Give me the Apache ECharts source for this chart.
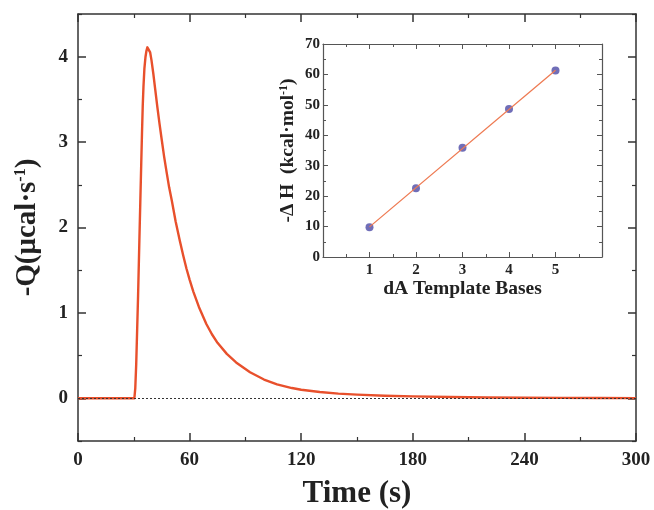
<!DOCTYPE html>
<html>
<head>
<meta charset="utf-8">
<script src="https://cdn.jsdelivr.net/npm/echarts@6/dist/echarts.min.js"></script>
<style>html,body{margin:0;padding:0;background:#fff}#c{width:654px;height:510px}</style>
</head>
<body>
<div id="c"></div>
<script>
// Main trace: time (s) and -Q (µcal/s)
var times = [0, 10, 20, 29, 30.3, 30.8, 31.3, 31.8, 32.3, 33, 33.5, 34, 34.4, 34.8, 35.2, 35.7, 36.3, 36.8, 37.3, 37.8, 38.3, 38.8, 39.5, 40.5, 41.5, 42.6, 43.8, 45, 46.3, 47.7, 49, 50.4, 52.5, 54.8, 56.6, 58.3, 60, 62, 65, 69, 72, 75, 80, 85, 92.5, 100, 107, 115, 120, 130, 140, 150, 165, 180, 200, 220, 240, 260, 280, 300];
var heatFlow = [0, 0, 0, 0, 0, 0.12, 0.4, 0.8, 1.2, 1.85, 2.3, 2.75, 3.1, 3.42, 3.65, 3.86, 4.0, 4.07, 4.11, 4.12, 4.1, 4.05, 3.96, 3.8, 3.62, 3.42, 3.22, 3.03, 2.83, 2.64, 2.47, 2.32, 2.07, 1.84, 1.67, 1.52, 1.39, 1.25, 1.07, 0.87, 0.75, 0.65, 0.52, 0.42, 0.305, 0.22, 0.163, 0.12, 0.10, 0.073, 0.055, 0.043, 0.030, 0.022, 0.015, 0.010, 0.007, 0.005, 0.003, 0.002];
var xTicks = [0, 60, 120, 180, 240, 300];
var yTicks = [0, 1, 2, 3, 4];
var yMinorTicks = [-0.5, 0.5, 1.5, 2.5, 3.5, 4.5];

// Inset: dA template bases vs -ΔH (kcal/mol)
var bases = [1, 2, 3, 4, 5];
var deltaH = [9.8, 22.6, 35.9, 48.6, 61.3];
var fitX = [1, 5];
var fitY = [9.9, 61.4];

var font = '"Liberation Serif", "Times New Roman", serif';
var axisCol = '#333';

function mainX(pos, show) {
  return {
    type: 'value', gridIndex: 0, position: pos, min: 0, max: 300, interval: 60,
    axisLine: {show: true, onZero: false, lineStyle: {color: axisCol, width: 1.5}},
    axisTick: {show: true, inside: true, length: 8, lineStyle: {color: axisCol, width: 1.5}},
    minorTick: {show: true, splitNumber: 2, length: 4, lineStyle: {color: axisCol, width: 1.2}},
    splitLine: {show: false},
    axisLabel: {show: show, margin: 10, color: '#222', fontFamily: font, fontWeight: 'bold', fontSize: 19,
      formatter: function (v) { return xTicks.indexOf(v) >= 0 ? String(v) : ''; }}
  };
}
function mainY(pos, show) {
  return {
    type: 'value', gridIndex: 0, position: pos, min: -0.5, max: 4.5, interval: 0.5,
    axisLine: {show: true, onZero: false, lineStyle: {color: axisCol, width: 1.5}},
    axisTick: {show: true, inside: true, length: 8, customValues: yTicks, lineStyle: {color: axisCol, width: 1.5}},
    minorTick: {show: false},
    splitLine: {show: false},
    axisLabel: {show: show, margin: 10, customValues: yTicks, color: '#222', fontFamily: font, fontWeight: 'bold', fontSize: 19,
      formatter: function (v) { return String(Math.round(v)); }}
  };
}
function mainYMinor(pos) {
  return {
    type: 'value', gridIndex: 0, position: pos, min: -0.5, max: 4.5, interval: 0.5,
    axisLine: {show: false, onZero: false},
    axisTick: {show: true, inside: true, length: 4, customValues: yMinorTicks, lineStyle: {color: axisCol, width: 1.2}},
    splitLine: {show: false},
    axisLabel: {show: false}
  };
}
function insetX(pos, show) {
  return {
    type: 'value', gridIndex: 1, position: pos, min: 0, max: 6, interval: 1,
    axisLine: {show: true, onZero: false, lineStyle: {color: '#555', width: 1.2}},
    axisTick: {show: true, inside: true, length: 5, lineStyle: {color: '#555', width: 1}},
    minorTick: {show: true, splitNumber: 2, length: 3, lineStyle: {color: '#555', width: 1}},
    splitLine: {show: false},
    axisLabel: {show: show, margin: 6, color: '#222', fontFamily: font, fontWeight: 'bold', fontSize: 15,
      formatter: function (v) { return bases.indexOf(v) >= 0 ? String(v) : ''; }}
  };
}
function insetY(pos, show) {
  return {
    type: 'value', gridIndex: 1, position: pos, min: 0, max: 70, interval: 10,
    axisLine: {show: true, onZero: false, lineStyle: {color: '#555', width: 1.2}},
    axisTick: {show: true, inside: true, length: 5, lineStyle: {color: '#555', width: 1}},
    minorTick: {show: true, splitNumber: 2, length: 3, lineStyle: {color: '#555', width: 1}},
    splitLine: {show: false},
    axisLabel: {show: show, margin: 3, color: '#222', fontFamily: font, fontWeight: 'bold', fontSize: 15}
  };
}

var xA0 = mainX('bottom', true);
xA0.name = 'Time (s)';
xA0.nameLocation = 'middle';
xA0.nameGap = 37;
xA0.nameTextStyle = {fontFamily: font, fontWeight: 'bold', fontSize: 31, color: '#222'};

var yA0 = mainY('left', true);
yA0.name = '-Q(\u03bccal\u00b7s{sup|-1})';
yA0.nameLocation = 'middle';
yA0.nameGap = 35;
yA0.nameTextStyle = {fontFamily: font, fontWeight: 'bold', fontSize: 29, color: '#222', lineHeight: 30,
  rich: {sup: {fontFamily: font, fontWeight: 'bold', fontSize: 16, color: '#222', verticalAlign: 'top', lineHeight: 16}}};

var xA2 = insetX('bottom', true);
xA2.name = 'dA Template Bases';
xA2.nameLocation = 'middle';
xA2.nameGap = 20;
xA2.nameTextStyle = {fontFamily: font, fontWeight: 'bold', fontSize: 19.5, color: '#222'};

var yA2 = insetY('left', true);
yA2.name = '-\u0394 H  (kcal\u00b7mol{sup|-1})';
yA2.nameLocation = 'middle';
yA2.nameGap = 25;
yA2.nameTextStyle = {fontFamily: font, fontWeight: 'bold', fontSize: 19.5, color: '#222', lineHeight: 20,
  rich: {sup: {fontFamily: font, fontWeight: 'bold', fontSize: 12, color: '#222', verticalAlign: 'top', lineHeight: 12}}};

var chart = echarts.init(document.getElementById('c'), null, {renderer: 'canvas'});
chart.setOption({
  animation: false,
  backgroundColor: '#fff',
  grid: [
    {left: 78, right: 18, top: 14, bottom: 69, containLabel: false, outerBoundsMode: 'none'},
    {left: 323, right: 52, top: 44, bottom: 253, containLabel: false, outerBoundsMode: 'none'}
  ],
  xAxis: [xA0, mainX('top', false), xA2, insetX('top', false)],
  yAxis: [yA0, mainY('right', false), yA2, insetY('right', false), mainYMinor('left'), mainYMinor('right')],
  series: [
    {
      type: 'line', xAxisIndex: 0, yAxisIndex: 0,
      data: times.map(function (t, i) { return [t, heatFlow[i]]; }),
      smooth: false, showSymbol: false, symbol: 'none',
      lineStyle: {color: '#e8502c', width: 2.4, join: 'round'},
      markLine: {
        silent: true, symbol: 'none', label: {show: false},
        lineStyle: {color: '#333', type: [2, 2], width: 1},
        data: [{yAxis: 0}]
      },
      z: 3
    },
    {
      type: 'line', xAxisIndex: 2, yAxisIndex: 2,
      data: fitX.map(function (x, i) { return [x, fitY[i]]; }),
      showSymbol: false, symbol: 'none',
      lineStyle: {color: '#ee7a52', width: 1.3}
    },
    {
      type: 'scatter', xAxisIndex: 2, yAxisIndex: 2,
      data: bases.map(function (x, i) { return [x, deltaH[i]]; }),
      symbol: 'circle', symbolSize: 8,
      itemStyle: {color: '#4c4aa6'}
    }
  ]
});
</script>
</body>
</html>
